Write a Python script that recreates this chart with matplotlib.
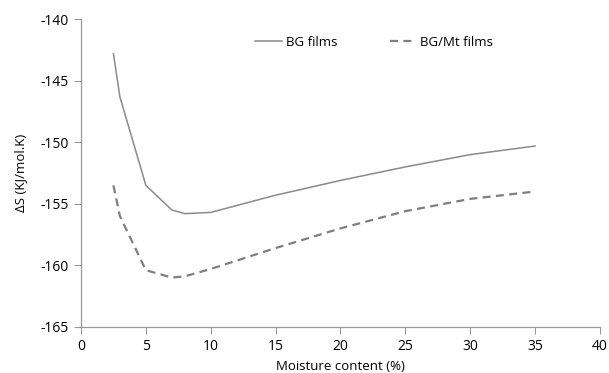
import matplotlib
matplotlib.use("Agg")
import matplotlib.pyplot as plt

moisture = [2.5, 3, 5, 7, 8, 10, 15, 20, 25, 30, 35]
bg_films = [-142.8, -146.3, -153.5, -155.5, -155.8, -155.7, -154.3, -153.1, -152.0, -151.0, -150.3]
bg_mt_films = [-153.5, -156.0, -160.4, -161.0, -160.9, -160.3, -158.6, -157.0, -155.6, -154.6, -154.0]
series_labels = ["BG films", "BG/Mt films"]
x_ticks = [0, 5, 10, 15, 20, 25, 30, 35, 40]
y_ticks = [-165, -160, -155, -150, -145, -140]

plt.rcParams['font.family'] = ['Open Sans', 'DejaVu Sans']
plt.rcParams['axes.unicode_minus'] = False

fig = plt.figure(figsize=(6.09, 3.73), dpi=100)
ax = fig.add_axes([0.133, 0.124, 0.852, 0.824])

ax.plot(moisture, bg_films, color='#8a8a8a', lw=1.1, label=series_labels[0])
ax.plot(moisture, bg_mt_films, color='#7f7f7f', lw=1.6, linestyle=(0, (3.6, 2.4)), label=series_labels[1])

ax.set_xlim(0, 40)
ax.set_ylim(-165, -140)
ax.set_xticks(x_ticks)
ax.set_yticks(y_ticks)
for s in ['top', 'right']:
    ax.spines[s].set_visible(False)
for s in ['left', 'bottom']:
    ax.spines[s].set_color('#999999')
    ax.spines[s].set_linewidth(0.9)
ax.tick_params(direction='out', length=5, color='#999999', labelsize=10, labelcolor='black')
ax.set_xlabel("Moisture content (%)", fontsize=9.5, labelpad=5)
ax.set_ylabel("ΔS (KJ/mol.K)", fontsize=9.5, labelpad=10)

leg = ax.legend(loc='upper center', bbox_to_anchor=(0.565, 0.985), ncol=2, frameon=False,
                fontsize=9.5, handlelength=2.0, columnspacing=4.0, handletextpad=0.3)

fig.savefig("out.png", dpi=100)
